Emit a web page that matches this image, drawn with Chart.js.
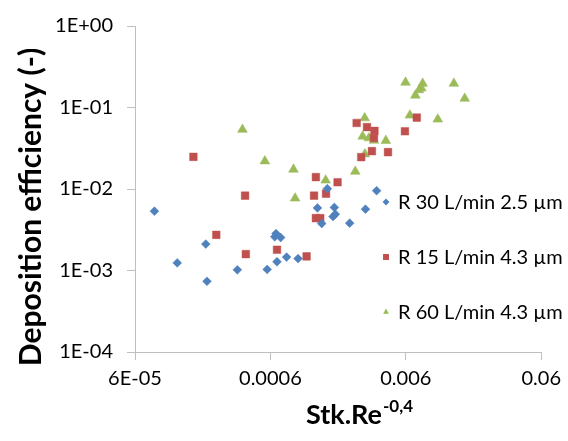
<!DOCTYPE html>
<html>
<head>
<meta charset="utf-8">
<script src="https://cdn.jsdelivr.net/npm/chart.js@4/dist/chart.umd.min.js"></script>
<style>
  html, body { margin: 0; padding: 0; background: #ffffff; }
  #c { display: block; }
</style>
</head>
<body>
<canvas id="c" width="568" height="441" style="width:568px;height:441px"></canvas>
<script>
// ---- Data ----
const seriesNames = ["R 30 L/min 2.5 µm", "R 15 L/min 4.3 µm", "R 60 L/min 4.3 µm"];

const r30x = [8.35e-5, 1.23e-4, 2.00e-4, 2.04e-4, 3.42e-4, 5.68e-4, 6.71e-4, 6.60e-4, 6.46e-4, 7.14e-4,
              7.90e-4, 9.60e-4, 1.335e-3, 1.435e-3, 1.58e-3, 1.78e-3, 1.74e-3, 1.81e-3, 2.31e-3, 3.02e-3, 3.65e-3];
const r30y = [5.34e-3, 1.24e-3, 2.11e-3, 7.37e-4, 1.02e-3, 1.03e-3, 1.28e-3, 2.84e-3, 2.59e-3, 2.54e-3,
              1.46e-3, 1.40e-3, 5.86e-3, 3.77e-3, 1.01e-2, 5.94e-3, 4.59e-3, 4.91e-3, 3.81e-3, 5.65e-3, 9.53e-3];

const r15x = [1.62e-4, 3.90e-4, 2.39e-4, 3.95e-4, 6.71e-4, 1.11e-3, 1.30e-3, 1.26e-3, 1.545e-3, 1.88e-3,
              1.30e-3, 1.40e-3, 2.60e-3, 3.10e-3, 3.52e-3, 3.49e-3, 3.37e-3, 2.81e-3, 4.43e-3, 5.91e-3, 7.23e-3];
const r15y = [2.48e-2, 8.28e-3, 2.74e-3, 1.59e-3, 1.80e-3, 1.49e-3, 1.40e-2, 8.28e-3, 8.76e-3, 1.21e-2,
              4.39e-3, 4.39e-3, 6.46e-2, 5.75e-2, 5.16e-2, 4.23e-2, 2.91e-2, 2.46e-2, 2.83e-2, 5.11e-2, 7.52e-2];

const r60x = [3.73e-4, 5.46e-4, 8.88e-4, 9.13e-4, 1.535e-3, 2.54e-3, 2.98e-3, 2.88e-3, 3.20e-3, 3.49e-3,
              2.99e-3, 4.27e-3, 5.97e-3, 7.99e-3, 7.81e-3, 7.51e-3, 7.06e-3, 1.358e-2, 1.633e-2, 6.43e-3, 1.033e-2];
const r60y = [5.36e-2, 2.20e-2, 1.74e-2, 7.70e-3, 1.28e-2, 1.64e-2, 7.43e-2, 4.42e-2, 4.22e-2, 3.95e-2,
              2.68e-2, 3.92e-2, 0.203, 0.197, 0.173, 0.164, 0.141, 0.197, 0.129, 8.02e-2, 7.16e-2];

const xTickValues = [6e-5, 6e-4, 6e-3, 6e-2];
const xTickLabels = ["6E-05", "0.0006", "0.006", "0.06"];
const yTickValues = [1e-4, 1e-3, 1e-2, 1e-1, 1];
const yTickLabels = ["1E-04", "1E-03", "1E-02", "1E-01", "1E+00"];

const xTitleMain = "Stk.Re";
const xTitleSup = "-0,4";
const yTitle = "Deposition efficiency (-)";

// ---- Styling ----
const FONT = "Lato, 'Open Sans', sans-serif";
const AXIS_COLOR = "#bfbfbf";
const TEXT_COLOR = "#000000";
const colors = ["#4F81BD", "#C0504D", "#9BBB59"];
const haloColors = ["rgba(79,129,189,0.55)", "rgba(192,80,77,0.45)", "rgba(155,187,89,0.55)"];
const styles = ["rectRot", "rect", "triangle"];
const radii = [4.4, 5.4, 5.6];

function pts(xs, ys) { return xs.map((x, i) => ({ x: x, y: ys[i] })); }

const datasets = [
  { label: seriesNames[0], data: pts(r30x, r30y) },
  { label: seriesNames[1], data: pts(r15x, r15y) },
  { label: seriesNames[2], data: pts(r60x, r60y) }
].map((d, i) => Object.assign(d, {
  pointStyle: styles[i],
  pointRadius: radii[i],
  pointBackgroundColor: colors[i],
  pointBorderColor: haloColors[i],
  pointBorderWidth: 1,
  showLine: false
}));

const annotPlugin = {
  id: "annot",
  afterDraw(chart) {
    const ctx = chart.ctx;
    ctx.save();
    // Y axis title
    ctx.fillStyle = TEXT_COLOR;
    ctx.font = "bold 30px " + FONT;
    ctx.textAlign = "center";
    ctx.textBaseline = "middle";
    ctx.translate(31, 207);
    ctx.rotate(-Math.PI / 2);
    ctx.fillText(yTitle, 0, 0);
    ctx.restore();

    // X axis title with superscript
    ctx.save();
    ctx.fillStyle = TEXT_COLOR;
    ctx.textAlign = "left";
    ctx.textBaseline = "alphabetic";
    ctx.font = "bold 27px " + FONT;
    const wMain = ctx.measureText(xTitleMain).width;
    ctx.font = "bold 17px " + FONT;
    const wSup = ctx.measureText(xTitleSup).width;
    const left = 359 - (wMain + wSup) / 2;
    ctx.font = "bold 27px " + FONT;
    ctx.fillText(xTitleMain, left, 424);
    ctx.font = "bold 17px " + FONT;
    ctx.fillText(xTitleSup, left + wMain + 1, 412);
    ctx.restore();

    // Legend
    ctx.save();
    const legendY = [202, 257, 312];
    chart.data.datasets.forEach((ds, i) => {
      ctx.fillStyle = colors[i];
      ctx.strokeStyle = colors[i];
      Chart.helpers.drawPoint(ctx, {
        pointStyle: styles[i], radius: i === 1 ? 4.2 : 3.4, rotation: 0, borderWidth: 0
      }, 386, legendY[i]);
      ctx.fillStyle = TEXT_COLOR;
      ctx.font = "20px " + FONT;
      ctx.textAlign = "left";
      ctx.textBaseline = "middle";
      ctx.fillText(ds.label, 398, legendY[i] + 1);
    });
    ctx.restore();
  }
};

new Chart(document.getElementById("c"), {
  type: "scatter",
  data: { datasets: datasets },
  options: {
    responsive: false,
    animation: false,
    events: [],
    layout: { padding: { left: 0, top: 24, right: 21, bottom: 0 } },
    plugins: { legend: { display: false }, tooltip: { enabled: false } },
    scales: {
      x: {
        type: "logarithmic",
        min: xTickValues[0],
        max: xTickValues[xTickValues.length - 1],
        afterBuildTicks: s => { s.ticks = xTickValues.map(v => ({ value: v })); },
        afterFit: s => { s.height = 89; },
        ticks: {
          autoSkip: false, maxRotation: 0, padding: 7,
          color: TEXT_COLOR, font: { family: FONT, size: 20 },
          callback: v => { const k = xTickValues.findIndex(t => Math.abs(t - v) / t < 1e-6); return k >= 0 ? xTickLabels[k] : ""; }
        },
        grid: { drawOnChartArea: false, drawTicks: true, tickLength: 8, color: AXIS_COLOR, lineWidth: 1 },
        border: { display: true, color: AXIS_COLOR, width: 1 }
      },
      y: {
        type: "logarithmic",
        min: yTickValues[0],
        max: yTickValues[yTickValues.length - 1],
        afterBuildTicks: s => { s.ticks = yTickValues.map(v => ({ value: v })); },
        afterFit: s => { s.width = 135; },
        ticks: {
          autoSkip: false, padding: 14,
          color: TEXT_COLOR, font: { family: FONT, size: 20 },
          callback: v => { const k = yTickValues.findIndex(t => Math.abs(t - v) / t < 1e-6); return k >= 0 ? yTickLabels[k] : ""; }
        },
        grid: { drawOnChartArea: false, drawTicks: true, tickLength: 8, color: AXIS_COLOR, lineWidth: 1 },
        border: { display: true, color: AXIS_COLOR, width: 1 }
      }
    }
  },
  plugins: [annotPlugin]
});
</script>
</body>
</html>
